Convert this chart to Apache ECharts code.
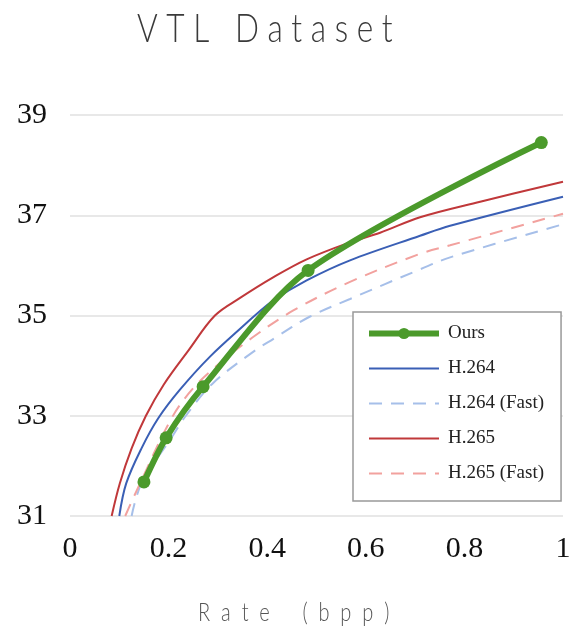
<!DOCTYPE html>
<html>
<head>
<meta charset="utf-8">
<script src="https://cdn.jsdelivr.net/npm/echarts@6/dist/echarts.min.js"></script>
<style>html,body{margin:0;padding:0;background:#fff}#c{width:575px;height:631px}</style>
</head>
<body>
<div id="c"></div>
<script>
const titleText = 'V T L   D a t a s e t';
const xName = 'R  a  t  e      (  b  p  p  )';
const seriesNames = ['Ours', 'H.264', 'H.264 (Fast)', 'H.265', 'H.265 (Fast)'];
const xTicks = [0, 0.2, 0.4, 0.6, 0.8, 1];
const yTicks = [31, 33, 35, 37, 39];

const oursRate = [0.150, 0.195, 0.270, 0.483, 0.956];
const oursPsnr = [31.68, 32.56, 33.58, 35.90, 38.45];

const h264Rate = [0.100, 0.114, 0.145, 0.179, 0.223, 0.284, 0.358, 0.375, 0.412, 0.480, 0.568, 0.710, 0.771, 1.000];
const h264Psnr = [31.00, 31.65, 32.35, 32.95, 33.52, 34.18, 34.85, 35.00, 35.30, 35.70, 36.10, 36.59, 36.79, 37.37];

const h264FastRate = [0.125, 0.145, 0.205, 0.235, 0.290, 0.375, 0.412, 0.485, 0.568, 0.710, 0.771, 1.000];
const h264FastPsnr = [31.00, 31.65, 32.55, 33.00, 33.65, 34.30, 34.53, 34.97, 35.33, 35.92, 36.16, 36.82];

const h265Rate = [0.0845, 0.101, 0.125, 0.154, 0.190, 0.240, 0.294, 0.345, 0.412, 0.480, 0.568, 0.629, 0.710, 0.832, 1.000];
const h265Psnr = [31.00, 31.65, 32.35, 33.00, 33.62, 34.30, 35.00, 35.35, 35.76, 36.12, 36.46, 36.65, 36.96, 37.27, 37.67];

const h265FastRate = [0.112, 0.135, 0.206, 0.250, 0.304, 0.370, 0.453, 0.568, 0.710, 0.771, 1.000];
const h265FastPsnr = [31.00, 31.50, 32.95, 33.55, 34.05, 34.56, 35.10, 35.67, 36.23, 36.40, 37.03];

const pairs = (xs, ys) => xs.map((x, i) => [x, ys[i]]);

const serif = '"Liberation Serif", "Times New Roman", serif';
const chart = echarts.init(document.getElementById('c'), null, {renderer: 'canvas'});

function codec(name, xs, ys, color, dashed) {
  return {
    name: name, type: 'line', data: pairs(xs, ys),
    smooth: 0.35, symbol: 'none', z: 2,
    lineStyle: {color: color, width: 2, type: dashed ? [13, 9] : 'solid'},
    itemStyle: {color: color},
    emphasis: {disabled: true}
  };
}

const legendData = seriesNames.map(n => n === 'Ours'
  ? {name: n}
  : {name: n, itemStyle: {color: 'rgba(0,0,0,0)', borderWidth: 0}});

chart.setOption({
  animation: false,
  backgroundColor: '#fff',
  graphic: [
    {type: 'text', x: 137, y: 9, scaleX: 0.79, silent: true,
     style: {text: titleText, fontFamily: 'Lato', fontWeight: 300, fontSize: 40, fill: '#3a3a3a',
             align: 'left', verticalAlign: 'top', textAlign: 'left', textVerticalAlign: 'top'}},
    {type: 'text', x: 293.7, y: 600, scaleX: 0.77, silent: true,
     style: {text: xName, fontFamily: 'Lato', fontWeight: 300, fontSize: 26, fill: '#555',
             align: 'center', verticalAlign: 'top', textAlign: 'center', textVerticalAlign: 'top'}}
  ],
  grid: {left: 70, right: 12, top: 115, bottom: 115, containLabel: false},
  legend: {
    orient: 'vertical', left: 353, top: 312,
    data: legendData,
    itemWidth: 70, itemHeight: 14, itemGap: 16,
    padding: [12, 17, 18, 13],
    backgroundColor: '#fff', borderColor: '#999', borderWidth: 1.5, borderRadius: 0,
    lineStyle: {width: 'inherit'},
    textStyle: {fontFamily: serif, fontSize: 19, color: '#222', padding: [0, 0, 0, 4]},
    selectedMode: false
  },
  xAxis: {
    type: 'value', min: 0, max: 1, interval: 0.2,
    axisLine: {show: false}, axisTick: {show: false}, splitLine: {show: false},
    axisLabel: {fontFamily: serif, fontSize: 30, color: '#111', margin: 18,
      formatter: v => { const t = xTicks.find(k => Math.abs(k - v) < 1e-9); return t === undefined ? '' : String(t); }}
  },
  yAxis: {
    type: 'value', min: 31, max: 39, interval: 2,
    axisLine: {show: false}, axisTick: {show: false},
    splitLine: {show: true, lineStyle: {color: '#e0e0e0', width: 1.5}},
    axisLabel: {fontFamily: serif, fontSize: 30, color: '#111', margin: 23,
      formatter: v => { const t = yTicks.find(k => Math.abs(k - v) < 1e-9); return t === undefined ? '' : String(t); }}
  },
  series: [
    codec('H.264', h264Rate, h264Psnr, '#3a5fb5', false),
    codec('H.264 (Fast)', h264FastRate, h264FastPsnr, '#a6bfe9', true),
    codec('H.265', h265Rate, h265Psnr, '#c0383a', false),
    codec('H.265 (Fast)', h265FastRate, h265FastPsnr, '#f2a19e', true),
    {
      name: 'Ours', type: 'line', data: pairs(oursRate, oursPsnr),
      smooth: 0.3, symbol: 'circle', symbolSize: 13, showSymbol: true, z: 5,
      lineStyle: {color: '#4b9a2b', width: 6},
      itemStyle: {color: '#4b9a2b'},
      emphasis: {disabled: true}
    }
  ]
});
</script>
</body>
</html>
